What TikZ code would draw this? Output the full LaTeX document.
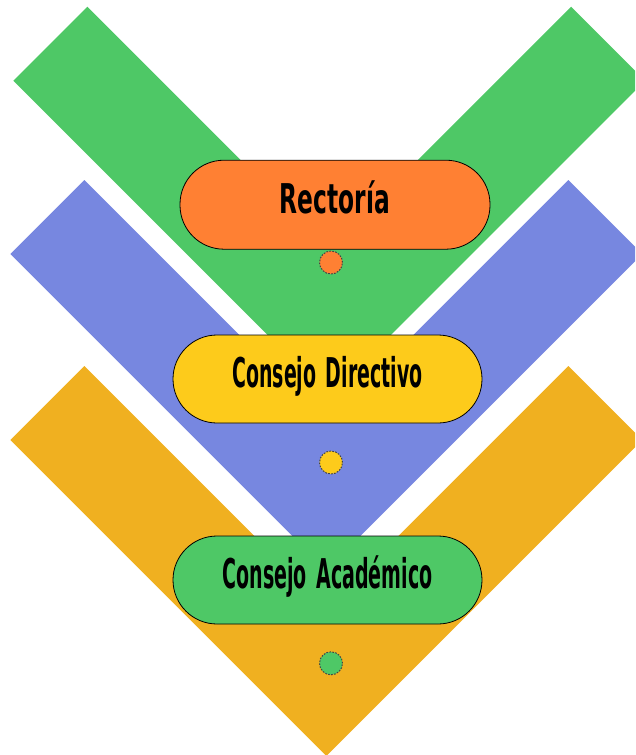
\documentclass[tikz,border=0pt]{standalone}
\usepackage{fontspec}
\usepackage{graphicx}
\newfontfamily\lblfont{DejaVu Sans}
\definecolor{vgreen}{HTML}{4EC866}
\definecolor{vblue}{HTML}{7787E0}
\definecolor{vyellow}{HTML}{F0B020}
\definecolor{borange}{HTML}{FF8033}
\definecolor{byellow}{HTML}{FDCB1B}
\definecolor{bgreen}{HTML}{4EC866}
\definecolor{dotline}{HTML}{444444}
\tikzset{
  pill/.style={draw=black, line width=0.8pt, rounded corners=44pt,
    minimum width=309pt, minimum height=88pt, inner sep=0pt,
    text height=30pt, text depth=12.6pt,
    font=\lblfont\bfseries\fontsize{41pt}{41pt}\selectfont},
  dotmark/.style={circle, draw=dotline, line width=1pt,
    dash pattern=on 1.6pt off 1.4pt, minimum size=23pt, inner sep=0pt}
}
\begin{document}
\begin{tikzpicture}[x=1pt, y=-1pt]
\useasboundingbox (0,0) rectangle (635,755);
\clip (0,0) rectangle (635,755);
% chevrons
\fill[vgreen] (87.3,6.7) -- (329.2,248.6) -- (571.1,6.7) -- (645.1,80.7) -- (329.2,396.6) -- (13.3,80.7) -- cycle;
\fill[vblue] (84.3,180) -- (326.3,422) -- (568.3,180) -- (642.3,254) -- (326.3,570) -- (10.3,254) -- cycle;
\fill[vyellow] (84.3,366) -- (326.3,608) -- (568.3,366) -- (642.3,440) -- (326.3,756) -- (10.3,440) -- cycle;
% boxes
\node[pill, fill=borange, minimum width=310pt, minimum height=89pt] (rect) at (335,204.7) {\scalebox{0.569}[1]{Rectoría}};
\node[pill, fill=byellow] (dir) at (327.5,379) {\scalebox{0.462}[1]{Consejo\hspace{0.5em}Directivo}};
\node[pill, fill=bgreen] (acad) at (327.5,580) {\scalebox{0.464}[1]{Consejo\hspace{0.5em}Académico}};
% dots
\node[dotmark, fill=borange] (d1) at (331,262.5) {};
\node[dotmark, fill=byellow] (d2) at (331,462.5) {};
\node[dotmark, fill=bgreen] (d3) at (331,663.3) {};
\end{tikzpicture}
\end{document}
